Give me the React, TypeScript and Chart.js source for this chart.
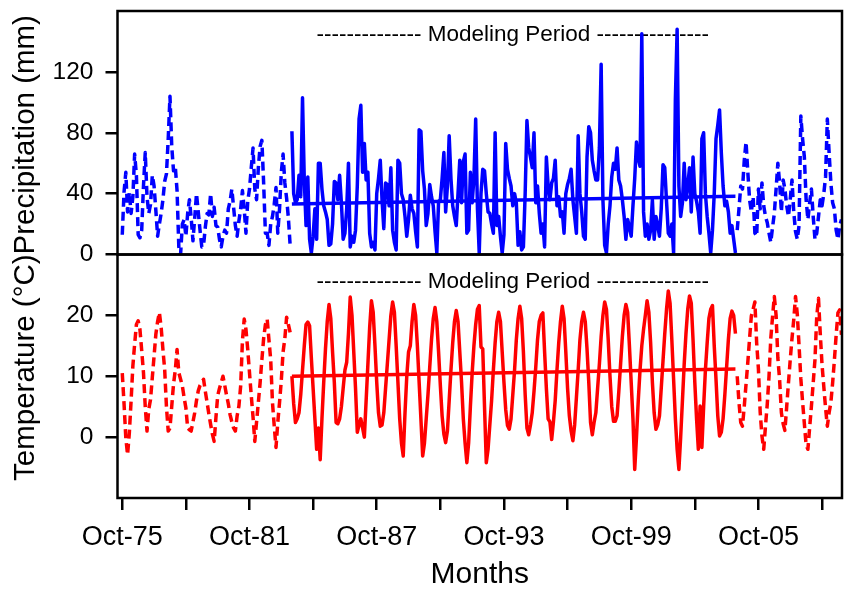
import React, { useEffect, useRef } from 'react';
import { Chart, registerables } from 'chart.js';

Chart.register(...registerables);

// Month index 0 = Oct-1975 (monthly, water years Oct–Sep)
const MODEL_START = 96; // Oct-83
const POST_START = 348; // Oct-04

const tickMonths = [0, 36, 72, 108, 144, 180, 216, 252, 288, 324, 360, 396];
const tickLabels = ['Oct-75', '', 'Oct-81', '', 'Oct-87', '', 'Oct-93', '', 'Oct-99', '', 'Oct-05', ''];
const precipTicks = [0, 40, 80, 120];
const tempTicks = [0, 10, 20];

const periodLabel = '-------------- Modeling Period ---------------';
const labelMonth = 221;
const precipLabelLevel = 140;
const tempLabelLevel = 24.5;

// Precipitation (mm)
const precipPre = [
  13, 41, 54, 28, 41, 27, 38, 66, 52, 13, 11, 16,
  45, 67, 38, 27, 33, 52, 45, 29, 12, 20, 27, 36,
  48, 53, 76, 104, 71, 55, 58, 42, 5, 0, 20, 23,
  12, 27, 36, 24, 9, 24, 40, 28, 16, 5, 6, 18,
  27, 26, 40, 25, 31, 19, 18, 10, 5, 12, 16, 14,
  30, 35, 43, 31, 19, 12, 22, 30, 42, 30, 14, 35,
  43, 57, 70, 43, 36, 57, 71, 75, 47, 14, 14, 6,
  20, 25, 33, 44, 14, 30, 54, 66, 47, 37, 24, 6,
];
const precipModel = [
  81, 40, 34, 36, 52, 38, 103, 49, 19, 51, 10, 1,
  12, 30, 10, 60, 60, 43, 32, 28, 23, 6, 7, 20,
  48, 47, 36, 52, 34, 10, 14, 30, 60, 5, 12, 8,
  16, 45, 89, 98, 54, 73, 49, 54, 14, 5, 8, 3,
  40, 50, 62, 36, 17, 47, 46, 32, 57, 16, 8, 3,
  62, 60, 40, 36, 25, 12, 23, 39, 30, 27, 15, 5,
  82, 81, 55, 43, 19, 27, 46, 38, 32, 15, 1, 35,
  36, 50, 67, 28, 45, 78, 50, 32, 25, 19, 40, 62,
  34, 61, 66, 14, 16, 54, 34, 50, 89, 30, 1, 40,
  56, 55, 40, 28, 27, 20, 14, 80, 19, 25, 12, 1,
  13, 73, 56, 50, 45, 32, 40, 34, 6, 15, 3, 5,
  40, 88, 70, 64, 57, 80, 34, 45, 27, 14, 20, 5,
  64, 45, 36, 47, 50, 62, 32, 38, 25, 28, 14, 40,
  46, 50, 56, 36, 25, 14, 78, 40, 28, 12, 10, 64,
  84, 80, 62, 55, 49, 49, 70, 125, 36, 6, 1, 20,
  32, 51, 60, 56, 70, 49, 45, 36, 25, 10, 23, 18,
  12, 32, 50, 74, 63, 58, 145, 28, 12, 20, 10, 16,
  36, 10, 25, 19, 12, 30, 59, 57, 35, 14, 12, 20,
  1, 102, 148, 45, 25, 34, 60, 36, 45, 57, 28, 64,
  40, 35, 28, 14, 76, 80, 40, 25, 14, 1, 16, 40,
  76, 85, 95, 67, 45, 32, 35, 28, 14, 19, 10, 1,
];
const precipPost = [
  16, 30, 45, 43, 62, 74, 54, 36, 28, 38, 14, 12,
  43, 30, 47, 32, 25, 21, 14, 8, 18, 27, 43, 60,
  47, 28, 49, 43, 32, 25, 36, 49, 28, 15, 10, 19,
  91, 76, 64, 36, 23, 34, 43, 25, 10, 14, 25, 36,
  32, 40, 51, 89, 67, 47, 34, 30, 16, 10, 19, 23,
];

// Temperature (°C)
const tempPre = [
  10.5, 5.5, -0.1, -2.9, 0.7, 6, 11.7, 15.3, 18.5, 19.1, 17.7, 14.2,
  10.6, 5, 1.0, 4.6, 6.2, 9.8, 13.3, 16.9, 19, 20.5, 18, 14.4,
  11.1, 5, 1.0, 1.5, 5.1, 8.7, 11, 14.4, 10.6, 9.5, 8.4, 6.5,
  4.8, 1.5, 1.2, 1.0, 2.5, 4.0, 6, 7.6, 8.5, 9, 9.5, 7.5,
  5.7, 3.8, 2.1, 0.5, -0.7, 3.2, 6.8, 8, 9, 10, 8.5, 6.9,
  5.5, 3.7, 2.5, 1.5, 1.0, 3.5, 5.1, 8.4, 15.8, 19.4, 17.7, 14.4,
  10.6, 6.8, 3.3, -0.7, 2.5, 5.7, 8.9, 12.7, 16.2, 18.5, 19.4, 16,
  12.7, 5.7, 1.8, -1.7, 2.4, 5.7, 9.3, 14, 16.2, 19.7, 18.5, 17.2,
];
const tempModel = [
  10, 5.5, 2.4, 3, 4, 7, 11, 15, 18.5, 18.9, 18.3, 13,
  8, 3, -2, 1.5, -3.7, 3, 9, 14.5, 19, 21.8, 19.5, 14,
  9, 2.4, 2.2, 3, 5, 8, 11, 12.3, 17, 23, 20, 14,
  8, 0.8, 2, 3, 1.5, 0, 6, 12, 18, 22.4, 20.5, 15,
  9, 4, 1.8, 2, 4, 8, 12, 16, 20, 22.2, 20.5, 15,
  9, 3, -1, -3.1, 4, 10, 14, 15, 19, 21.8, 20, 15,
  9, 3, -3.1, -1, 3, 7, 11.5, 16, 19.5, 21.3, 19, 14,
  8.5, 3.5, 0.5, -0.9, 1, 6, 11, 15.5, 19, 20.8, 19, 14,
  9, 3, -1, -4.2, -1, 5, 10.5, 15, 18.5, 21, 21.6, 14.8,
  14.5, 5, -4.2, -2, 2, 6, 11, 15.5, 19, 20.5, 19, 14,
  9, 4.5, 1.9, 1.3, 3, 7, 11, 16, 19.5, 21.5, 19.5, 14,
  7, 1.5, 0.4, 2, 4, 7.5, 11.5, 16, 19, 20, 20.4, 14,
  8, 3, 2.5, -0.4, 2.5, 6, 11, 15.5, 19, 21.5, 19.5, 14,
  8, 3.5, 1, -0.6, 2, 6.5, 11, 16, 19, 20.5, 19, 14.5,
  9, 2.4, 0.4, 2.4, 4, 8, 12, 16.5, 20, 22.2, 21, 16,
  10, 5, 2.6, 2.6, 3.5, 7.5, 12, 16.5, 20, 21.8, 20.5, 15,
  9, 3, -5.3, 0, 6, 11, 15, 17.7, 20, 22.4, 20.5, 15.5,
  9, 4, 1.3, 2, 3.5, 8, 12.5, 17, 21, 24, 22, 16,
  9.5, 3, -2, -5.3, 0, 6, 12, 17, 21, 23.2, 22, 16,
  9, 3, -2, 5.1, -1.7, 5, 11, 15.5, 19.5, 21, 21.6, 15,
  9.5, 3.5, 0.2, 0.8, 3, 7, 11.5, 16, 19.5, 20.7, 20, 17,
];
const tempPost = [
  10, 5.7, 2.4, 1.8, 5.1, 8.7, 12.3, 16.2, 19.9, 21, 22.2, 15.5,
  11.2, 4.1, 0.2, -2, 1.8, 5.4, 10, 16.2, 19.8, 23.1, 20, 13,
  9.4, 4, 2.2, 1.1, 5, 8.9, 12.7, 16.2, 19.3, 23.1, 20.2, 15,
  9.6, 5.8, 2.2, -1.3, -2, 1.6, 5.1, 8.9, 12.7, 19.8, 22.8, 17,
  11.9, 8.3, 4.8, 1.8, 4, 5.7, 8.9, 12.7, 16.8, 20.4, 20.9, 16.8,
];

// Linear trends over the modeling period
const trendMonths = [96, 347];
const precipTrend = [33.2, 38.2];
const tempTrend = [10.0, 11.2];

const BLUE = '#0000ff';
const RED = '#ff0000';
const FONT = '"Liberation Sans", Arial, Helvetica, sans-serif';

const pts = (vals: number[], start: number) => vals.map((v, k) => ({ x: start + k, y: v }));
const trendPts = (vals: number[]) => vals.map((v, k) => ({ x: trendMonths[k], y: v }));

const lineDs = (label: string, data: any[], color: string, axis: string, dashed: boolean) => ({
  label,
  data,
  yAxisID: axis,
  borderColor: color,
  backgroundColor: color,
  borderWidth: 3.5,
  borderDash: dashed ? [9, 5] : [],
  borderJoinStyle: 'round',
  pointRadius: 0,
  tension: 0,
  fill: false,
});

const textPlugin = {
  id: 'panelTexts',
  beforeDatasetsDraw(chart: any) {
    const { ctx, scales } = chart;
    ctx.save();
    ctx.fillStyle = '#000';
    ctx.font = `22.5px ${FONT}`;
    ctx.textAlign = 'center';
    ctx.textBaseline = 'alphabetic';
    const lx = scales.x.getPixelForValue(labelMonth);
    ctx.fillText(periodLabel, lx, scales.yP.getPixelForValue(precipLabelLevel));
    ctx.fillText(periodLabel, lx, scales.yT.getPixelForValue(tempLabelLevel));
    ctx.restore();
  },
  afterDraw(chart: any) {
    const { ctx, chartArea, scales } = chart;
    ctx.save();
    ctx.strokeStyle = '#000';
    ctx.lineWidth = 2.5;
    for (const id of ['yP', 'yT']) {
      const s = scales[id];
      ctx.strokeRect(chartArea.left, s.top, chartArea.right - chartArea.left, s.bottom - s.top);
    }
    ctx.fillStyle = '#000';
    ctx.font = `30px ${FONT}`;
    ctx.textAlign = 'center';
    ctx.textBaseline = 'alphabetic';
    ctx.fillText('Months', (chartArea.left + chartArea.right) / 2, 583);
    ctx.translate(26, 248);
    ctx.rotate(-Math.PI / 2);
    ctx.textBaseline = 'middle';
    ctx.font = `29.5px ${FONT}`;
    ctx.fillText('Temperature (°C)Precipitation (mm)', 0, 0);
    ctx.restore();
  },
};

const axisGrid = {
  display: true,
  drawOnChartArea: false,
  drawTicks: true,
  tickLength: 12,
  color: '#000',
  lineWidth: 2.5,
};

const noPad = (s: any) => {
  s.paddingTop = 0;
  s.paddingBottom = 0;
  s.paddingLeft = 0;
  s.paddingRight = 0;
};

export default function App() {
  const ref = useRef<HTMLCanvasElement | null>(null);
  useEffect(() => {
    if (!ref.current) return;
    Chart.defaults.font.family = FONT;
    const chart = new Chart(ref.current, {
      type: 'line',
      data: {
        datasets: [
          lineDs('Precip (pre)', pts(precipPre, 0), BLUE, 'yP', true),
          lineDs('Precip (model)', pts(precipModel, MODEL_START), BLUE, 'yP', false),
          lineDs('Precip (post)', pts(precipPost, POST_START), BLUE, 'yP', true),
          lineDs('Precip trend', trendPts(precipTrend), BLUE, 'yP', false),
          lineDs('Temp (pre)', pts(tempPre, 0), RED, 'yT', true),
          lineDs('Temp (model)', pts(tempModel, MODEL_START), RED, 'yT', false),
          lineDs('Temp (post)', pts(tempPost, POST_START), RED, 'yT', true),
          lineDs('Temp trend', trendPts(tempTrend), RED, 'yT', false),
        ] as any,
      },
      options: {
        animation: false,
        responsive: false,
        maintainAspectRatio: false,
        layout: { padding: { left: 0, right: 6, top: 11, bottom: 0 } },
        plugins: { legend: { display: false }, tooltip: { enabled: false } },
        scales: {
          x: {
            type: 'linear',
            position: 'bottom',
            min: -2.7,
            max: 407.3,
            grid: axisGrid,
            border: { display: false },
            afterBuildTicks: (s: any) => { s.ticks = tickMonths.map((v) => ({ value: v })); },
            afterFit: (s: any) => { s.height = 92; noPad(s); },
            ticks: {
              autoSkip: false,
              maxRotation: 0,
              minRotation: 0,
              padding: 11,
              color: '#000',
              font: { size: 27 },
              callback: (_v: any, i: number) => tickLabels[i],
            },
          },
          yT: {
            type: 'linear',
            position: 'left',
            stack: 'panels',
            stackWeight: 1,
            min: -10,
            max: 30,
            grid: axisGrid,
            border: { display: false },
            afterBuildTicks: (s: any) => { s.ticks = tempTicks.map((v) => ({ value: v })); },
            afterFit: (s: any) => { s.width = 117.5; noPad(s); },
            ticks: { padding: 12, color: '#000', font: { size: 24.5 }, callback: (v: any) => String(v) },
          },
          yP: {
            type: 'linear',
            position: 'left',
            stack: 'panels',
            stackWeight: 1,
            min: 0,
            max: 160,
            grid: axisGrid,
            border: { display: false },
            afterBuildTicks: (s: any) => { s.ticks = precipTicks.map((v) => ({ value: v })); },
            afterFit: (s: any) => { s.width = 117.5; noPad(s); },
            ticks: { padding: 12, color: '#000', font: { size: 24.5 }, callback: (v: any) => String(v) },
          },
        } as any,
      },
      plugins: [textPlugin],
    });
    return () => chart.destroy();
  }, []);
  return (
    <div style={{ position: 'fixed', left: 0, top: 0, width: 848, height: 590, background: '#fff' }}>
      <canvas ref={ref} width={848} height={590} style={{ display: 'block', width: 848, height: 590 }} />
    </div>
  );
}
